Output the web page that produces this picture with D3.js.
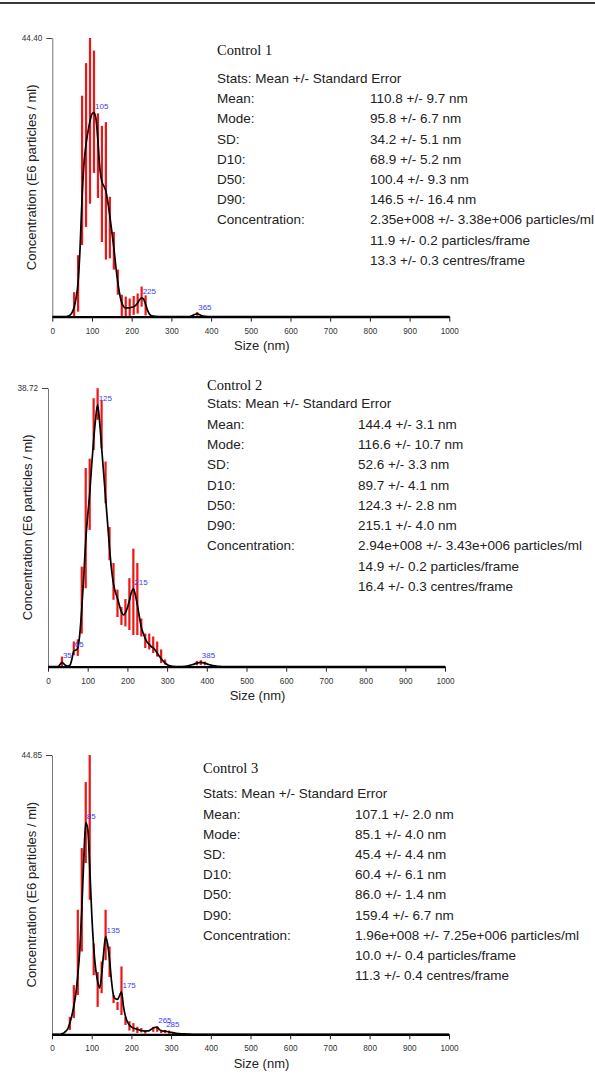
<!DOCTYPE html>
<html>
<head>
<meta charset="utf-8">
<script src="https://cdn.jsdelivr.net/npm/d3@7/dist/d3.min.js"></script>
<style>
  body { margin: 0; background: #fff; }
</style>
</head>
<body>
<svg id="chart"></svg>
<script>
// ---------- data ----------
const xTicks = [0, 100, 200, 300, 400, 500, 600, 700, 800, 900, 1000];
const statLabels = ["Mean:", "Mode:", "SD:", "D10:", "D50:", "D90:", "Concentration:", "", ""];
const statsHeader = "Stats: Mean +/- Standard Error";

// Control 1
const sizes1 = [0, 30, 40, 45, 50, 55, 60, 65, 70, 75, 80, 85, 90, 95, 100, 105, 110, 115, 120, 125, 130, 135, 140, 145, 150, 155, 160, 165, 170, 175, 180, 185, 190, 195, 200, 205, 210, 215, 220, 225, 230, 235, 240, 245, 250, 260, 280, 340, 350, 355, 360, 365, 370, 375, 385, 400, 1000];
const mean1 = [0, 0, 0.1, 0.3, 0.7, 1.5, 3, 5.5, 11, 19, 24.5, 27.5, 29.5, 31.2, 32.3, 32.5, 31.5, 28, 23.5, 21.5, 20.8, 20, 18.2, 16, 13.5, 11, 8, 5.5, 3.5, 2.2, 1.6, 1.4, 1.4, 1.4, 1.5, 1.6, 1.8, 2.2, 2.7, 3.0, 2.8, 2.0, 1.0, 0.4, 0.15, 0.05, 0, 0, 0.1, 0.25, 0.4, 0.45, 0.35, 0.2, 0.05, 0, 0];
const barSizes1 = [55, 65, 75, 85, 95, 105, 115, 125, 135, 145, 155, 165, 175, 185, 195, 205, 215, 225, 235, 365];
const barLow1 = [0, 0.8, 11.4, 14.3, 18, 22.9, 18.9, 11.9, 9.1, 9.3, 7.5, 3.5, 0, 0, 0, 0.3, 0.5, 1.6, 0.2, 0.15];
const barHigh1 = [3.9, 9.8, 35.2, 40.4, 44.4, 42.4, 32.4, 30.4, 31, 19.1, 13.5, 7.5, 3.5, 3.2, 2.9, 3.3, 3.7, 4.8, 3.4, 0.75];
const peaks1 = [105, 225, 365];
const stats1 = ["110.8 +/- 9.7 nm", "95.8 +/- 6.7 nm", "34.2 +/- 5.1 nm", "68.9 +/- 5.2 nm", "100.4 +/- 9.3 nm", "146.5 +/- 16.4 nm", "2.35e+008 +/- 3.38e+006 particles/ml", "11.9 +/- 0.2 particles/frame", "13.3 +/- 0.3 centres/frame"];

// Control 2
const sizes2 = [0, 25, 30, 35, 40, 45, 50, 55, 60, 65, 70, 75, 80, 85, 90, 95, 100, 105, 110, 115, 120, 125, 130, 135, 140, 145, 150, 155, 160, 165, 170, 175, 180, 185, 190, 195, 200, 205, 210, 215, 220, 225, 230, 235, 240, 245, 250, 255, 260, 265, 270, 275, 280, 285, 290, 295, 300, 305, 315, 330, 345, 355, 365, 375, 385, 395, 405, 415, 430, 450, 1000];
const mean2 = [0, 0, 0.3, 0.6, 0.4, 0.15, 0.1, 0.2, 1.0, 2.2, 2.3, 2.6, 4.5, 8, 12.5, 17.5, 21, 24, 28, 31.5, 34.5, 36.4, 34, 30.5, 27, 23.5, 20, 16.5, 13.5, 11.5, 10.3, 9.5, 8.5, 7.6, 7.2, 7.5, 8.2, 9.2, 10.3, 10.8, 10, 8.6, 7, 5.5, 4.6, 3.9, 3.4, 3.1, 2.8, 2.6, 2.3, 1.9, 1.5, 1.1, 0.8, 0.5, 0.3, 0.15, 0.05, 0, 0.05, 0.15, 0.3, 0.5, 0.6, 0.5, 0.3, 0.15, 0.05, 0, 0];
const barSizes2 = [35, 65, 75, 85, 95, 105, 115, 125, 135, 145, 155, 165, 175, 185, 195, 205, 215, 225, 235, 245, 255, 265, 275, 285, 295, 375, 385, 395];
const barLow2 = [0, 1.6, 1.5, 4.6, 10.9, 19, 30.1, 34.3, 30.3, 22.7, 14.8, 9.3, 6.9, 5.8, 5.6, 5.1, 4.4, 4.4, 4.2, 2.6, 2.4, 1.9, 1.4, 0.5, 0.3, 0.2, 0.25, 0.2];
const barHigh2 = [1.4, 3.5, 3.8, 13.9, 27.6, 28.9, 37.3, 38.7, 37, 28.5, 19.4, 14.4, 10.7, 8.3, 9.4, 12.3, 16.4, 14.4, 6.7, 4.6, 4.6, 4.2, 3.5, 2.4, 1.0, 0.8, 0.9, 0.7];
const peaks2 = [35, 65, 125, 215, 385];
const stats2 = ["144.4 +/- 3.1 nm", "116.6 +/- 10.7 nm", "52.6 +/- 3.3 nm", "89.7 +/- 4.1 nm", "124.3 +/- 2.8 nm", "215.1 +/- 4.0 nm", "2.94e+008 +/- 3.43e+006 particles/ml", "14.9 +/- 0.2 particles/frame", "16.4 +/- 0.3 centres/frame"];

// Control 3
const sizes3 = [0, 20, 25, 30, 35, 40, 45, 50, 55, 60, 65, 70, 75, 80, 85, 90, 95, 100, 105, 110, 115, 120, 125, 130, 135, 140, 145, 150, 155, 160, 165, 170, 175, 180, 185, 190, 195, 200, 205, 210, 215, 220, 225, 230, 235, 240, 245, 250, 255, 260, 265, 270, 275, 280, 285, 290, 295, 300, 310, 320, 340, 360, 1000];
const mean3 = [0, 0, 0.1, 0.2, 0.5, 0.9, 1.8, 3, 4.5, 6.5, 9.5, 13.5, 20, 28, 34, 33, 27, 19.5, 14, 10.5, 8.5, 7.4, 9.5, 13, 15.7, 14.5, 12, 8.5, 6.2, 5.7, 5.6, 6.2, 6.8, 4.5, 2.9, 2.0, 1.5, 1.2, 1.0, 0.9, 0.8, 0.7, 0.6, 0.55, 0.5, 0.55, 0.6, 0.8, 1.0, 1.1, 1.1, 0.8, 0.6, 0.5, 0.5, 0.45, 0.35, 0.3, 0.2, 0.1, 0.05, 0, 0];
const barSizes3 = [45, 55, 65, 75, 85, 95, 105, 115, 125, 135, 145, 155, 165, 175, 185, 195, 205, 215, 225, 235, 255, 265, 275, 285, 295, 305];
const barLow3 = [0.7, 2.6, 6.3, 13.3, 27.5, 21.6, 9.5, 4.4, 6.6, 11.9, 9.2, 5, 3.9, 3.1, 1.5, 0.6, 0.4, 0.2, 0.3, 0.1, 0.4, 0.4, 0.2, 0.2, 0.1, 0.05];
const barHigh3 = [2.8, 7.9, 20, 29.9, 40.5, 44.85, 14.6, 10, 11.7, 20, 14.1, 6.3, 5.2, 10.9, 2.8, 2.1, 1.8, 1.2, 1.0, 0.7, 1.2, 1.3, 0.6, 0.7, 0.6, 0.4];
const peaks3 = [85, 135, 175, 265, 285];
const stats3 = ["107.1 +/- 2.0 nm", "85.1 +/- 4.0 nm", "45.4 +/- 4.4 nm", "60.4 +/- 6.1 nm", "86.0 +/- 1.4 nm", "159.4 +/- 6.7 nm", "1.96e+008 +/- 7.25e+006 particles/ml", "10.0 +/- 0.4 particles/frame", "11.3 +/- 0.4 centres/frame"];

// ---------- layout ----------
const width = 595, height = 1088;
const sans = "'Liberation Sans', Arial, sans-serif";
const serif = "'Liberation Serif', 'Times New Roman', serif";

const svg = d3.select("#chart")
  .attr("width", width)
  .attr("height", height)
  .style("background", "#fff")
  .style("font-family", sans);

// top rule
svg.append("line")
  .attr("x1", 0).attr("x2", width)
  .attr("y1", 3).attr("y2", 3)
  .attr("stroke", "#3a3a3a")
  .attr("stroke-width", 2);

const panels = [
  { title: "Control 1", yMax: 44.40, sizes: sizes1, mean: mean1, barSizes: barSizes1, barLow: barLow1, barHigh: barHigh1, peaks: peaks1, stats: stats1,
    left: 52.3, right: 449.3, top: 38, base: 316.7, titleX: 217, titleY: 55, statsY: 83, step: 20.2, valueX: 370 },
  { title: "Control 2", yMax: 38.72, sizes: sizes2, mean: mean2, barSizes: barSizes2, barLow: barLow2, barHigh: barHigh2, peaks: peaks2, stats: stats2,
    left: 48, right: 445, top: 388, base: 666.7, titleX: 207, titleY: 390, statsY: 408.3, step: 20.3, valueX: 358 },
  { title: "Control 3", yMax: 44.85, sizes: sizes3, mean: mean3, barSizes: barSizes3, barLow: barLow3, barHigh: barHigh3, peaks: peaks3, stats: stats3,
    left: 52, right: 449, top: 755, base: 1034.3, titleX: 203, titleY: 773, statsY: 798.3, step: 20.2, valueX: 355 }
];

panels.forEach(function (p) {
  const x = d3.scaleLinear().domain([0, 1000]).range([p.left, p.right]);
  const y = d3.scaleLinear().domain([0, p.yMax]).range([p.base, p.top]);
  const g = svg.append("g");

  // red error bars
  g.selectAll(".err")
    .data(p.barSizes)
    .enter()
    .append("line")
    .attr("x1", d => x(d))
    .attr("x2", d => x(d))
    .attr("y1", (d, i) => y(p.barLow[i]))
    .attr("y2", (d, i) => y(p.barHigh[i]))
    .attr("stroke", "#f01414")
    .attr("stroke-width", 2.2);

  // x axis
  const xAxis = g.append("g")
    .attr("transform", `translate(0,${p.base})`)
    .call(d3.axisBottom(x).tickValues(xTicks).tickFormat(d3.format("d"))
      .tickSize(5).tickSizeOuter(0).tickPadding(6));
  xAxis.select(".domain").attr("stroke", "#000").attr("stroke-width", 2.2);
  xAxis.selectAll(".tick line").attr("stroke", "#222");
  xAxis.selectAll("text")
    .attr("font-size", 8.2)
    .style("font-family", sans)
    .attr("fill", "#333");

  // y axis, only the top value
  const yAxis = g.append("g")
    .attr("transform", `translate(${p.left},0)`)
    .call(d3.axisLeft(y).tickValues([p.yMax]).tickFormat(d3.format(".2f"))
      .tickSize(6).tickSizeOuter(0).tickPadding(4));
  yAxis.select(".domain").attr("stroke", "#777").attr("stroke-width", 1);
  yAxis.selectAll(".tick line").attr("stroke", "#444");
  yAxis.selectAll("text")
    .attr("font-size", 8.2)
    .style("font-family", sans)
    .attr("fill", "#333");

  // mean curve
  const line = d3.line()
    .x((d, i) => x(p.sizes[i]))
    .y(d => y(d))
    .curve(d3.curveMonotoneX);

  g.append("path")
    .datum(p.mean)
    .attr("d", line)
    .attr("fill", "none")
    .attr("stroke", "#000")
    .attr("stroke-width", 1.7);

  // peak labels
  p.peaks.forEach(function (s) {
    const v = p.mean[p.sizes.indexOf(s)];
    g.append("text")
      .text(s)
      .attr("x", x(s) + 1)
      .attr("y", y(v) - 4)
      .attr("font-size", 8)
      .attr("fill", "#3d3df0");
  });

  // axis titles
  g.append("text")
    .text("Size (nm)")
    .attr("x", (p.left + p.right) / 2 + 11)
    .attr("y", p.base + 33.5)
    .attr("text-anchor", "middle")
    .attr("font-size", 13)
    .attr("fill", "#222");

  g.append("text")
    .text("Concentration (E6 particles / ml)")
    .attr("transform", `translate(${p.left - 21},${(p.top + p.base) / 2}) rotate(-90)`)
    .attr("text-anchor", "middle")
    .attr("dominant-baseline", "central")
    .attr("font-size", 13)
    .attr("fill", "#222");

  // stats block
  g.append("text")
    .text(p.title)
    .attr("x", p.titleX)
    .attr("y", p.titleY)
    .style("font-family", serif)
    .attr("font-size", 14.5)
    .attr("fill", "#111");

  g.append("text")
    .text(statsHeader)
    .attr("x", p.titleX)
    .attr("y", p.statsY)
    .attr("font-size", 13.5)
    .attr("fill", "#222");

  statLabels.forEach(function (lab, i) {
    const yy = p.statsY + (i + 1) * p.step;
    g.append("text")
      .text(lab)
      .attr("x", p.titleX)
      .attr("y", yy)
      .attr("font-size", 13.5)
      .attr("fill", "#222");
    g.append("text")
      .text(p.stats[i])
      .attr("x", p.valueX)
      .attr("y", yy)
      .attr("font-size", 13.5)
      .attr("fill", "#222");
  });
});
</script>
</body>
</html>
